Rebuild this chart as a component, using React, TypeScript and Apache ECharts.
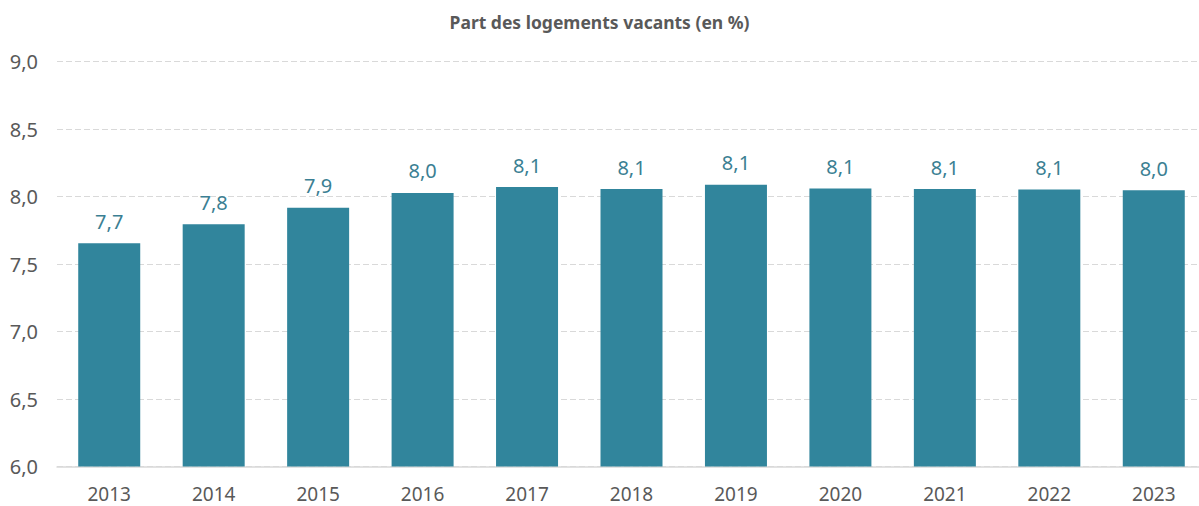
import React, { useEffect, useRef } from "react";
import * as echarts from "echarts";

const title = "Part des logements vacants (en %)";
const years = ["2013", "2014", "2015", "2016", "2017", "2018", "2019", "2020", "2021", "2022", "2023"];
const vacantShare = [7.653, 7.794, 7.917, 8.026, 8.07, 8.055, 8.087, 8.06, 8.055, 8.052, 8.046];
const yTicks = { min: 6, max: 9, interval: 0.5 };

const fmt = (v: number) => v.toFixed(1).replace(".", ",");

export default function App() {
  const ref = useRef<HTMLDivElement>(null);
  useEffect(() => {
    if (!ref.current) return;
    const chart = echarts.init(ref.current, null, { renderer: "svg" });
    const font = "'Noto Sans', sans-serif";
    chart.setOption({
      animation: false,
      backgroundColor: "#ffffff",
      title: {
        text: title,
        left: "center",
        top: 8,
        textStyle: { fontFamily: font, fontSize: 17.5, fontWeight: "bold", color: "#595959" },
      },
      grid: {
        left: 57,
        width: 1149,
        top: 61.5,
        bottom: 39.5,
        containLabel: false,
        outerBoundsMode: "none",
      },
      xAxis: {
        type: "category",
        data: years,
        axisLine: { show: true, lineStyle: { color: "#d9d9d9", width: 1.5 } },
        axisTick: { show: false },
        axisLabel: { fontFamily: font, fontSize: 19, lineHeight: 19, color: "#595959", margin: 18 },
      },
      yAxis: {
        type: "value",
        min: yTicks.min,
        max: yTicks.max,
        interval: yTicks.interval,
        axisLine: { show: false },
        axisTick: { show: false },
        splitLine: { lineStyle: { color: "#d9d9d9", type: [6, 3], width: 1 } },
        axisLabel: {
          fontFamily: font,
          fontSize: 20,
          color: "#595959",
          margin: 19,
          formatter: (v: number) => fmt(v),
        },
      },
      series: [
        {
          type: "bar",
          data: vacantShare,
          barWidth: 62,
          itemStyle: { color: "#31859c" },
          label: {
            show: true,
            position: "top",
            distance: 12,
            fontFamily: font,
            fontSize: 20,
            color: "#3b7f93",
            formatter: (p: any) => fmt(p.value),
          },
        },
      ],
    });
    return () => chart.dispose();
  }, []);
  return (
    <div style={{ position: "absolute", left: 0, top: 0, width: 1199, height: 506, overflow: "hidden" }}>
      <div ref={ref} style={{ width: 1199, height: 506 }} />
    </div>
  );
}
